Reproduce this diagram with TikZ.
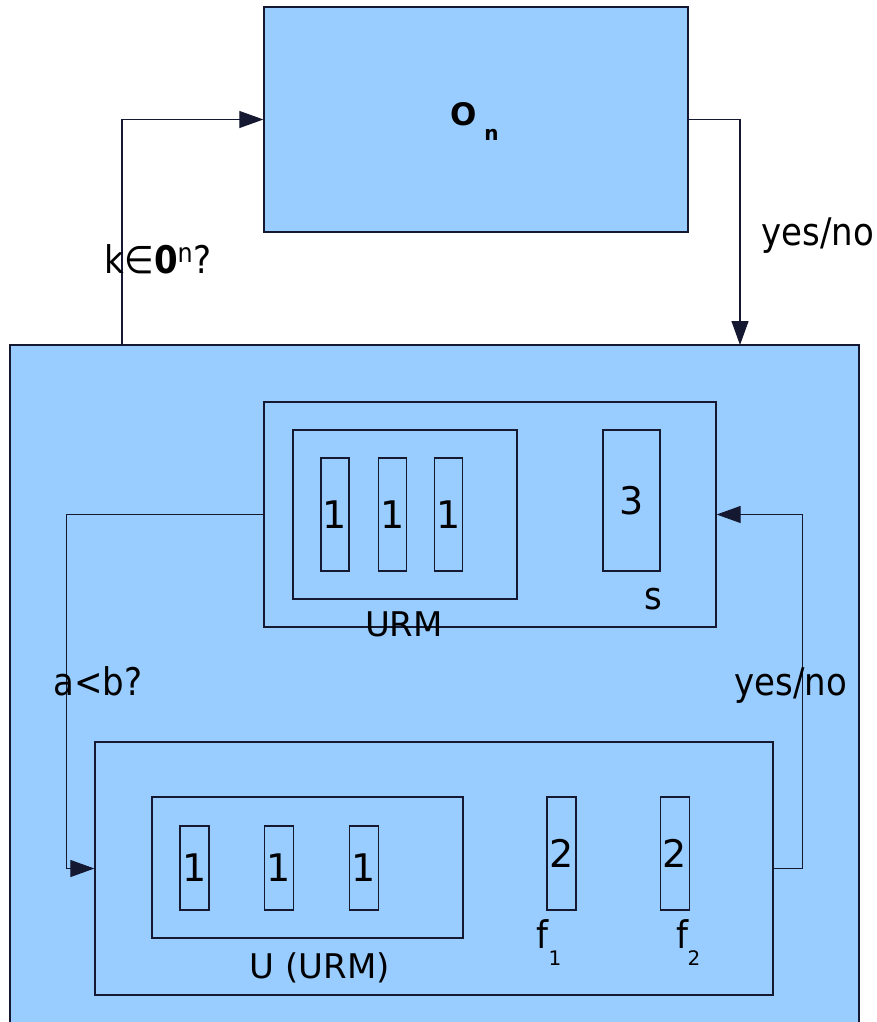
\documentclass[tikz,border=0pt]{standalone}
\usepackage{fontspec}
\usepackage{graphicx}
\setmainfont{DejaVu Sans}
\usetikzlibrary{arrows.meta}
\definecolor{boxblue}{RGB}{153,204,255}
\definecolor{edge}{RGB}{20,24,48}
\newcommand\tall[1]{\scalebox{1}[1.12]{#1}}
\tikzset{
  blk/.style={draw=edge,fill=boxblue,line width=1.3pt,inner sep=0pt},
  reg/.style={blk,font=\fontsize{38}{42}\selectfont},
  lbl/.style={font=\fontsize{34}{40}\selectfont,anchor=base,inner sep=0pt},
  sub/.style={font=\fontsize{20}{22}\selectfont,anchor=base,inner sep=0pt},
  arr/.style={draw=edge,line width=1.1pt,-{Triangle[length=24pt,width=17pt]}}
}
\begin{document}
\begin{tikzpicture}[x=1pt,y=-1pt]
  \useasboundingbox (0,0) rectangle (877,1022);
  % oracle and machine
  \node[blk,minimum width=424,minimum height=225] (oracle) at (476,119.5) {};
  \node[font=\bfseries\fontsize{31}{36}\selectfont,anchor=base,inner sep=0pt] (oname) at (464,126) {O};
  \node[sub,font=\bfseries\fontsize{20}{22}\selectfont] at (491.5,140) {n};
  \node[blk,minimum width=849,minimum height=680] (mach) at (434.5,685) {};
  % upper part: URM and s
  \node[blk,minimum width=452,minimum height=225] (urm) at (490,514.5) {};
  \node[blk,minimum width=224,minimum height=169] (urmin) at (405,514.5) {};
  \foreach \x/\n in {335/ra,392.5/rb,448.5/rc}
    \node[reg,minimum width=28,minimum height=113] (\n) at (\x,514.5) {1};
  \node[reg,minimum width=57,minimum height=141] (s) at (631.5,500.5) {3};
  \node[lbl] at (404,636) {URM};
  \node[lbl] at (653,609) {\tall{s}};
  % lower part: U and f1, f2
  \node[blk,minimum width=678,minimum height=253] (low) at (434,868.5) {};
  \node[blk,minimum width=311,minimum height=141] (uin) at (307.5,867.5) {};
  \foreach \x/\n in {194.5/ua,279/ub,364/uc}
    \node[reg,minimum width=29,minimum height=84] (\n) at (\x,868) {1};
  \node[reg,minimum width=29,minimum height=113] (fa) at (561.5,853.5) {2};
  \node[reg,minimum width=29,minimum height=113] (fb) at (675,853.5) {2};
  \node[lbl] at (320,978) {U (URM)};
  \node[lbl] at (542,948) {\tall{f}};
  \node[sub] at (555,965) {1};
  \node[lbl] at (682,948) {\tall{f}};
  \node[sub] at (694,965) {2};
  % connectors
  \coordinate (ask) at (122,345);
  \coordinate (back) at (740,345);
  \draw[arr] (ask) |- (oracle.west);
  \draw[arr] (oracle.east) -| (back);
  \draw[arr] (urm.west) -- ++(-197,0) |- (low.west);
  \draw[arr] (low.east) -- ++(29,0) |- (urm.east);
  \node[lbl] at (158,273) {\tall{k∈\textbf{0}\textsuperscript{n}?}};
  \node[lbl] at (818,245) {\tall{yes/no}};
  \node[lbl] at (98,695) {\tall{a<b?}};
  \node[lbl] at (791,695) {\tall{yes/no}};
\end{tikzpicture}
\end{document}
